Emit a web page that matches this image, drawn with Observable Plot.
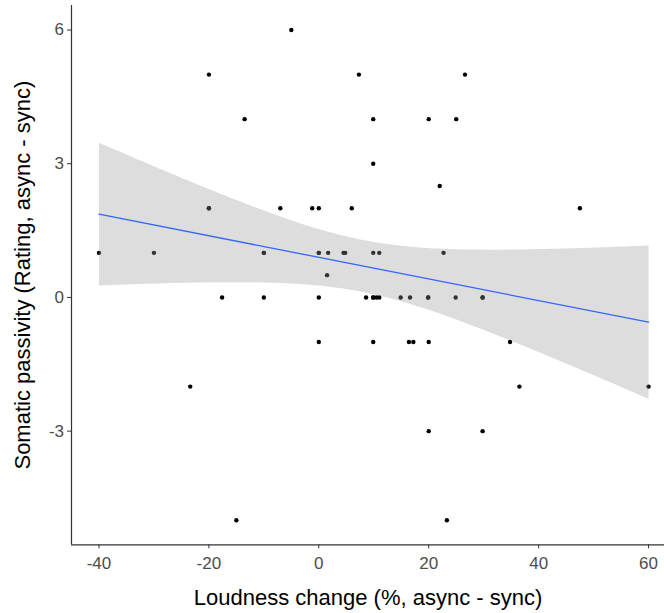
<!DOCTYPE html>
<html>
<head>
<meta charset="utf-8">
<script src="https://cdn.jsdelivr.net/npm/d3@7"></script>
<script src="https://cdn.jsdelivr.net/npm/@observablehq/plot@0.6"></script>
<style>
  html, body { margin: 0; padding: 0; background: #fff; }
  #chart svg { display: block; }
</style>
</head>
<body>
<div id="chart"></div>
<script>
// Loudness change (%, async - sync); the last six are points hidden under visible ones (overplotted)
const loudness = [
  -40, -30, -23.4, -20, -20, -17.6, -15, -13.5, -10, -10, -7, -5, -1.2,
  0, 0, 0, 0, 1.5, 1.7, 4.5, 4.8, 6, 7.3, 8.6, 9.9, 9.9, 9.9, 11, 9.9,
  10.5, 11, 9.9, 14.9, 16.6, 16.4, 17.2, 19.9, 20, 20, 20, 22, 22.7,
  23.3, 24.9, 25, 26.6, 29.8, 29.8, 34.8, 36.5, 47.5, 60,
  -10, -20, 0, 9.9, 19.9, 29.8
];
// Somatic passivity (Rating, async - sync)
const passivity = [
  1, 1, -2, 5, 2, 0, -5, 4, 1, 0, 2, 6, 2,
  2, 1, 0, -1, 0.5, 1, 1, 1, 2, 5, 0, 4, 3, 1, 1, 0,
  0, 0, -1, 0, 0, -1, -1, 0, 4, -1, -3, 2.5, 1,
  -5, 0, 4, 5, 0, -3, -1, -2, 2, -2,
  1, 2, 1, 0, 0, 0
];
const xTicks = [-40, -20, 0, 20, 40, 60];
const yTicks = [-3, 0, 3, 6];
const xLabel = "Loudness change (%, async - sync)";
const yLabel = "Somatic passivity (Rating, async - sync)";

const data = loudness.map((x, i) => ({x, y: passivity[i]}));
const xDomain = [-45, 62.9];
const yDomain = [-5.55, 6.55];
const font = "'Liberation Sans', Arial, sans-serif";

const chart = Plot.plot({
  width: 664,
  height: 613,
  marginLeft: 71,
  marginRight: 0,
  marginTop: 5,
  marginBottom: 68.7,
  style: {fontFamily: font, background: "#fff"},
  x: {domain: xDomain},
  y: {domain: yDomain},
  marks: [
    Plot.dot(data, {x: "x", y: "y", r: 2.2, fill: "#000", stroke: "none"}),
    Plot.linearRegressionY(data, {
      x: "x", y: "y",
      stroke: "#3366FF", strokeWidth: 1.3,
      fill: "#999999", fillOpacity: 0.33, ci: 0.95
    }),
    Plot.axisX({
      ticks: xTicks, tickFormat: d => String(d), tickSize: 4, tickPadding: 8,
      label: null, fontSize: 17, color: "#4d4d4d", stroke: "#333"
    }),
    Plot.axisY({
      ticks: yTicks, tickFormat: d => String(d), tickSize: 4, tickPadding: 3.5,
      label: null, fontSize: 17, color: "#4d4d4d", stroke: "#333"
    }),
    Plot.ruleY([yDomain[0]], {stroke: "#333", strokeWidth: 1.2}),
    Plot.ruleX([xDomain[0]], {stroke: "#333", strokeWidth: 1.2}),
    Plot.text([xLabel], {
      text: d => d, frameAnchor: "bottom", dy: 53, lineAnchor: "middle",
      textAnchor: "middle", fontSize: 22, fill: "#000"
    }),
    Plot.text([yLabel], {
      text: d => d, frameAnchor: "left", dx: -49, rotate: -90, lineAnchor: "middle",
      textAnchor: "middle", fontSize: 22, fill: "#000"
    })
  ]
});
document.getElementById("chart").appendChild(chart);
</script>
</body>
</html>
